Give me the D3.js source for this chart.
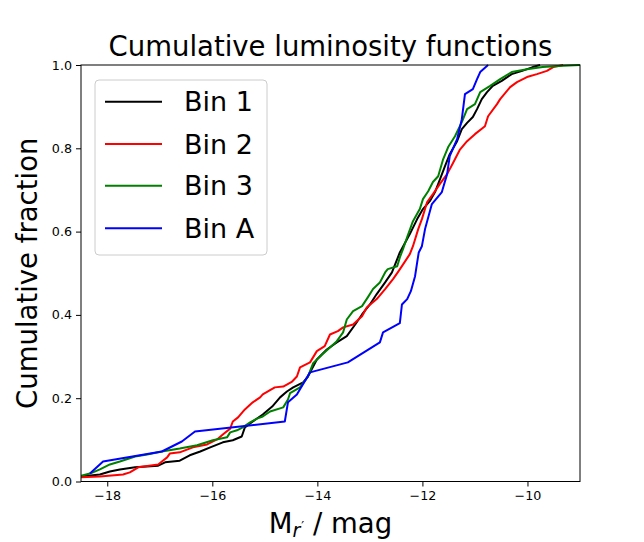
<!DOCTYPE html>
<html>
<head>
<meta charset="utf-8">
<script src="https://cdn.jsdelivr.net/npm/d3@7"></script>
<style>
  html, body { margin: 0; padding: 0; background: #fff; }
  svg { display: block; font-family: "DejaVu Sans", sans-serif; }
</style>
</head>
<body>
<svg id="chart" width="644" height="542"></svg>
<script>
// ---- Data ----
const seriesNames = ["Bin 1", "Bin 2", "Bin 3", "Bin A"];
const seriesColors = ["#000000", "#ff0000", "#008000", "#0000ff"];

const bin1 = [
  [-18.55,0.011],[-18.14,0.017],[-17.95,0.024],[-17.76,0.029],[-17.47,0.034],[-17.03,0.038],
  [-16.90,0.046],[-16.62,0.050],[-16.43,0.063],[-16.23,0.072],[-16.04,0.082],[-15.80,0.094],
  [-15.61,0.099],[-15.44,0.108],[-15.38,0.130],[-15.23,0.144],[-15.04,0.161],[-14.86,0.180],
  [-14.71,0.202],[-14.58,0.216],[-14.46,0.226],[-14.27,0.238],[-14.18,0.252],[-14.01,0.293],
  [-13.82,0.317],[-13.63,0.334],[-13.44,0.349],[-13.28,0.377],[-13.15,0.401],[-13.00,0.425],
  [-12.87,0.450],[-12.71,0.478],[-12.58,0.502],[-12.48,0.534],[-12.43,0.550],[-12.24,0.594],
  [-12.10,0.630],[-11.99,0.654],[-11.86,0.673],[-11.76,0.695],[-11.67,0.724],[-11.57,0.757],
  [-11.48,0.786],[-11.34,0.817],[-11.25,0.846],[-11.15,0.861],[-11.04,0.875],[-10.96,0.894],
  [-10.87,0.918],[-10.77,0.935],[-10.66,0.950],[-10.49,0.962],[-10.30,0.978],[-10.10,0.986],
  [-9.90,0.995],[-9.76,1.0]
];
const bin2 = [
  [-18.55,0.010],[-18.14,0.012],[-17.70,0.017],[-17.57,0.022],[-17.41,0.034],[-17.03,0.041],
  [-16.96,0.048],[-16.86,0.058],[-16.81,0.067],[-16.62,0.070],[-16.37,0.082],[-16.10,0.089],
  [-15.91,0.101],[-15.80,0.113],[-15.66,0.127],[-15.61,0.144],[-15.51,0.154],[-15.38,0.173],
  [-15.23,0.190],[-15.09,0.202],[-15.04,0.209],[-14.81,0.226],[-14.65,0.228],[-14.48,0.240],
  [-14.39,0.252],[-14.33,0.274],[-14.14,0.286],[-14.01,0.313],[-13.86,0.325],[-13.76,0.353],
  [-13.61,0.361],[-13.51,0.370],[-13.32,0.377],[-13.15,0.397],[-13.06,0.418],[-12.87,0.438],
  [-12.71,0.462],[-12.56,0.486],[-12.47,0.502],[-12.39,0.517],[-12.24,0.546],[-12.18,0.565],
  [-12.08,0.606],[-12.01,0.630],[-11.91,0.671],[-11.80,0.690],[-11.67,0.714],[-11.53,0.738],
  [-11.42,0.764],[-11.29,0.796],[-11.15,0.817],[-11.00,0.834],[-10.81,0.853],[-10.75,0.877],
  [-10.58,0.906],[-10.52,0.918],[-10.33,0.947],[-10.20,0.959],[-10.01,0.971],[-9.82,0.978],
  [-9.63,0.986],[-9.51,0.995],[-9.32,1.0]
];
const bin3 = [
  [-18.55,0.012],[-18.33,0.019],[-18.14,0.029],[-17.95,0.041],[-17.76,0.048],[-17.47,0.060],
  [-17.24,0.065],[-16.96,0.072],[-16.62,0.079],[-16.29,0.087],[-15.99,0.099],[-15.72,0.106],
  [-15.66,0.118],[-15.53,0.123],[-15.42,0.130],[-15.28,0.142],[-15.15,0.151],[-15.04,0.156],
  [-14.90,0.168],[-14.65,0.178],[-14.56,0.197],[-14.52,0.212],[-14.33,0.226],[-14.18,0.252],
  [-14.08,0.284],[-13.91,0.305],[-13.76,0.322],[-13.63,0.337],[-13.51,0.358],[-13.44,0.389],
  [-13.32,0.409],[-13.15,0.421],[-13.04,0.442],[-12.94,0.462],[-12.81,0.478],[-12.71,0.502],
  [-12.66,0.510],[-12.48,0.517],[-12.43,0.538],[-12.37,0.558],[-12.29,0.587],[-12.18,0.625],
  [-12.05,0.654],[-11.99,0.678],[-11.89,0.697],[-11.80,0.719],[-11.70,0.733],[-11.61,0.772],
  [-11.51,0.803],[-11.38,0.829],[-11.25,0.863],[-11.15,0.894],[-11.00,0.906],[-10.90,0.935],
  [-10.71,0.950],[-10.52,0.966],[-10.30,0.983],[-10.01,0.990],[-9.71,0.995],[-9.32,0.998],
  [-9.00,1.0]
];
const binA = [
  [-18.33,0.019],[-18.08,0.048],[-16.96,0.072],[-16.58,0.096],[-16.33,0.120],[-14.62,0.144],
  [-14.56,0.190],[-14.39,0.209],[-14.14,0.262],[-13.42,0.286],[-12.81,0.334],[-12.75,0.358],
  [-12.43,0.380],[-12.39,0.425],[-12.29,0.438],[-12.22,0.457],[-12.14,0.493],[-12.10,0.526],
  [-12.07,0.550],[-12.01,0.565],[-11.95,0.606],[-11.82,0.666],[-11.63,0.695],[-11.53,0.738],
  [-11.48,0.781],[-11.34,0.822],[-11.25,0.870],[-11.19,0.930],[-11.04,0.942],[-10.96,0.966],
  [-10.90,0.983],[-10.75,1.0]
];
const xTicks = [-18, -16, -14, -12, -10];
const yTicks = [0.0, 0.2, 0.4, 0.6, 0.8, 1.0];
const xDomain = [-18.5, -9.0];
const yDomain = [0, 1];

// ---- Layout ----
const svg = d3.select("#chart");
const L = 81, R = 580, T = 65, B = 481.5;

const x = d3.scaleLinear().domain(xDomain).range([L, R]);
const y = d3.scaleLinear().domain(yDomain).range([B, T]);

svg.append("defs").append("clipPath").attr("id", "plotclip")
  .append("rect").attr("x", L).attr("y", T - 2).attr("width", R - L).attr("height", B - T + 2);

const allSeries = [bin1, bin2, bin3, binA];
const line = d3.line().x(d => x(d[0])).y(d => y(d[1]));

const plot = svg.append("g").attr("clip-path", "url(#plotclip)");
allSeries.forEach((s, i) => {
  plot.append("path").datum(s)
    .attr("d", line)
    .attr("fill", "none")
    .attr("stroke", seriesColors[i])
    .attr("stroke-width", 2)
    .attr("stroke-linejoin", "round")
    .attr("stroke-linecap", "butt");
});

// Axes
const xAxis = d3.axisBottom(x).tickValues(xTicks).tickSize(5).tickPadding(4).tickFormat(d3.format("d"));
const yAxis = d3.axisLeft(y).tickValues(yTicks).tickSize(5).tickPadding(4).tickFormat(d3.format(".1f"));

const gx = svg.append("g").attr("transform", `translate(0,${B})`).call(xAxis);
const gy = svg.append("g").attr("transform", `translate(${L},0)`).call(yAxis);
[gx, gy].forEach(g => {
  g.select(".domain").remove();
  g.selectAll("text").attr("font-size", 12.7).attr("fill", "#000").attr("font-family", "DejaVu Sans");
  g.selectAll("line").attr("stroke", "#000").attr("stroke-width", 1);
});

// frame
svg.append("rect").attr("x", L).attr("y", T).attr("width", R - L).attr("height", B - T)
  .attr("fill", "none").attr("stroke", "#000").attr("stroke-width", 1);

// Title
svg.append("text").attr("x", (L + R) / 2).attr("y", 56).attr("text-anchor", "middle")
  .attr("font-size", 27.5).text("Cumulative luminosity functions");

// Y label
svg.append("text").attr("transform", `translate(37,${(T + B) / 2}) rotate(-90)`)
  .attr("text-anchor", "middle").attr("font-size", 27.5).text("Cumulative fraction");

// X label with subscript r'
const xl = svg.append("text").attr("x", (L + R) / 2).attr("y", 533)
  .attr("text-anchor", "middle").attr("font-size", 27.5);
xl.append("tspan").text("M");
xl.append("tspan").attr("font-size", 19).attr("font-style", "italic").attr("dy", 4).text("r");
xl.append("tspan").attr("font-size", 13).attr("dx", 1).attr("dy", -7).text("′");
xl.append("tspan").attr("dy", 3).text(" / mag");

// Legend
const lg = svg.append("g");
lg.append("rect").attr("x", 95).attr("y", 80).attr("width", 172).attr("height", 175)
  .attr("rx", 4).attr("fill", "#fff").attr("fill-opacity", 0.8)
  .attr("stroke", "#cccccc").attr("stroke-width", 1);
const rowY = [101.7, 144, 185.7, 228.3];
seriesNames.forEach((n, i) => {
  lg.append("line").attr("x1", 105).attr("x2", 162).attr("y1", rowY[i]).attr("y2", rowY[i])
    .attr("stroke", seriesColors[i]).attr("stroke-width", 2);
  lg.append("text").attr("x", 184).attr("y", rowY[i]).attr("dy", "0.36em")
    .attr("font-size", 27).text(n);
});
</script>
</body>
</html>
